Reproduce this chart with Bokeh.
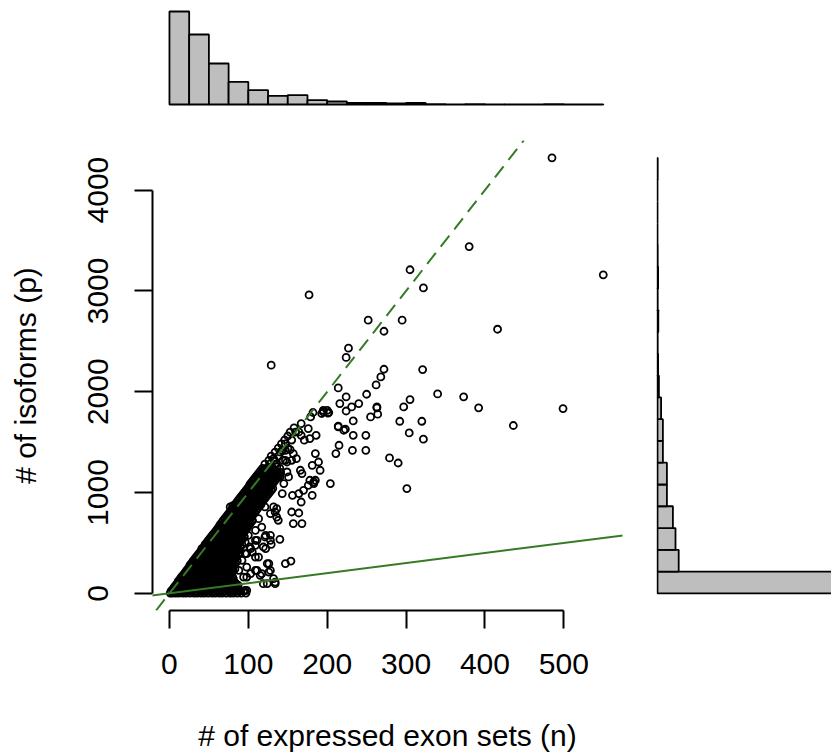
from bokeh.plotting import figure
from bokeh.models import Range1d, FixedTicker, Slope
from bokeh.layouts import column, row
from bokeh.embed import file_html
from bokeh.resources import INLINE

FONT = "Liberation Sans"
GREEN = "#357a24"
BAR_FILL = "#bebebe"

# ---------------- data ----------------
x_ticks = [0, 100, 200, 300, 400, 500]
y_ticks = [0, 1000, 2000, 3000, 4000]
x_title = "# of expressed exon sets (n)"
y_title = "# of isoforms (p)"

# marginal histogram of n (exon sets)
n_breaks = [0, 25, 50, 75, 100, 125, 150, 175, 200, 225, 250, 275, 300,
            325, 350, 375, 400, 425, 450, 475, 500, 525, 550]
n_counts = [465, 350, 205, 113, 72, 43, 47, 22, 15, 8, 8, 5, 8,
            2, 1, 2, 1, 1, 0, 2, 0, 1]

# marginal histogram of p (isoforms)
p_breaks = [0, 216, 432, 648, 864, 1080, 1296, 1512, 1728, 1944, 2160,
            2376, 2592, 2808, 3024, 3240, 3456, 3672, 3888, 4104, 4320]
p_counts = [911, 106, 90, 77, 47, 47, 27, 27, 18, 7, 3, 1, 4, 1, 3, 1, 0, 0, 0, 1]

# reference lines p = slope * n
upper_slope = 10
lower_slope = 1

# dense core of genes: rows of (isoforms, [exon sets ...])
core_rows = [
    (3,    [1, 4, 8, 12, 17, 21, 26, 31, 35, 40, 44, 49, 54, 58, 63, 67, 72, 77, 81, 86, 91, 97]),
    (22,   [2, 6, 10, 15, 19, 24, 28, 33, 38, 42, 47, 51, 56, 61, 65, 70, 75, 79, 84, 89, 94]),
    (40,   [4, 8, 13, 18, 22, 27, 32, 36, 41, 46, 50, 55, 60, 64, 69, 74, 78, 83, 88]),
    (61,   [6, 10, 15, 19, 24, 29, 33, 38, 43, 47, 52, 57, 61, 66, 71, 75, 80, 85]),
    (82,   [8, 12, 17, 21, 26, 31, 35, 40, 45, 49, 54, 59, 63, 68, 73, 77, 82, 87]),
    (100,  [10, 14, 19, 23, 28, 33, 37, 42, 47, 51, 56, 60, 65, 70, 74, 79, 84]),
    (118,  [11, 16, 20, 25, 30, 34, 39, 44, 48, 53, 58, 62, 67, 72, 76, 81]),
    (139,  [13, 18, 22, 27, 32, 36, 41, 46, 50, 55, 60, 64, 69, 73, 78]),
    (160,  [15, 20, 24, 29, 33, 38, 43, 47, 52, 57, 61, 66, 71, 75, 80]),
    (179,  [17, 22, 26, 31, 35, 40, 45, 49, 54, 59, 63, 68, 73, 77]),
    (198,  [19, 23, 28, 32, 37, 42, 46, 51, 56, 60, 65, 70, 74, 79]),
    (220,  [21, 25, 30, 35, 39, 44, 48, 53, 58, 62, 67, 72, 76, 81]),
    (241,  [23, 27, 32, 37, 41, 46, 50, 55, 60, 64, 69, 74, 78, 83]),
    (260,  [25, 29, 34, 39, 43, 48, 52, 57, 61, 66, 71, 75, 80]),
    (280,  [26, 31, 35, 40, 45, 49, 54, 58, 63, 68, 72, 77, 82]),
    (301,  [28, 33, 37, 42, 47, 51, 56, 60, 65, 70, 74, 79, 84]),
    (322,  [30, 35, 39, 44, 48, 53, 58, 62, 67, 71, 76, 81, 86]),
    (341,  [32, 37, 41, 46, 50, 55, 60, 64, 69, 73, 78, 83]),
    (361,  [34, 38, 43, 48, 52, 57, 61, 66, 71, 75, 80, 85]),
    (381,  [36, 40, 45, 50, 54, 59, 63, 68, 73, 77, 82, 87]),
    (402,  [38, 42, 47, 52, 56, 61, 65, 70, 75, 79, 84, 89]),
    (421,  [40, 44, 49, 54, 58, 63, 67, 72, 77, 81, 86]),
    (441,  [42, 46, 51, 55, 60, 65, 69, 74, 78, 83, 88]),
    (462,  [44, 48, 53, 57, 62, 67, 71, 76, 80, 85, 90]),
    (483,  [45, 50, 55, 59, 64, 68, 73, 78, 82, 87, 92]),
    (502,  [47, 52, 57, 61, 66, 70, 75, 80, 84, 89]),
    (522,  [49, 54, 58, 63, 68, 72, 77, 81, 86, 91]),
    (542,  [51, 56, 60, 65, 70, 74, 79, 83, 88, 93]),
    (563,  [53, 58, 62, 67, 71, 76, 81, 85, 90, 95]),
    (582,  [55, 60, 64, 69, 73, 78, 83, 87, 92]),
    (601,  [57, 61, 66, 71, 75, 80, 84, 89, 94]),
    (621,  [59, 63, 68, 73, 77, 82, 86, 91, 96]),
    (642,  [61, 65, 70, 75, 79, 84, 88, 93, 98]),
    (661,  [63, 67, 72, 76, 81, 86, 90, 95, 99]),
    (680,  [64, 69, 74, 78, 83, 87, 92, 97, 101]),
    (700,  [66, 71, 76, 80, 85, 89, 94, 98, 103]),
    (721,  [68, 73, 77, 82, 87, 91, 96, 100, 105]),
    (741,  [70, 75, 79, 84, 89, 93, 98, 102]),
    (762,  [72, 77, 81, 86, 90, 95, 100, 104]),
    (781,  [74, 79, 83, 88, 92, 97, 101, 106]),
    (800,  [76, 80, 85, 90, 94, 99, 103, 108]),
    (821,  [78, 82, 87, 92, 96, 101, 105, 110]),
    (843,  [80, 84, 89, 93, 98, 103, 107, 112]),
    (862,  [82, 86, 91, 95, 100, 104, 109, 114]),
    (881,  [83, 88, 93, 97, 102, 106, 111, 116]),
    (901,  [85, 90, 95, 99, 104, 108, 113, 117]),
    (922,  [87, 92, 96, 101, 106, 110, 115, 119]),
    (942,  [89, 94, 98, 103, 107, 112, 117, 121]),
    (963,  [91, 96, 100, 105, 109, 114, 119, 123]),
    (982,  [93, 98, 102, 107, 111, 116, 120, 125]),
    (1001, [95, 99, 104, 108, 113, 118, 122, 127]),
    (1021, [97, 101, 106, 110, 115, 120, 124, 129]),
    (1042, [99, 103, 108, 112, 117, 122, 126, 131]),
    (1061, [101, 105, 110, 114, 119, 123, 128]),
    (1080, [102, 107, 111, 116, 121, 125, 130]),
    (1100, [104, 109, 113, 118, 122, 127, 132]),
    (1121, [106, 111, 115, 120, 124, 129, 134]),
    (1140, [108, 113, 117, 122, 126, 131, 136]),
    (1160, [110, 114, 119, 124, 128, 133, 138]),
    (1180, [112, 116, 121, 126, 130, 135, 139]),
    (1201, [114, 118, 123, 127, 132, 137, 141]),
    (1220, [116, 120, 125, 134]),
    (1240, [118, 123, 131, 140]),
    (1282, [121, 127, 135]),
    (1320, [126, 133, 144]),
    (1362, [129, 138]),
    (1401, [134, 141]),
    (1440, [138, 150]),
    (1482, [142, 147]),
    (1521, [146, 155]),
    (1561, [150]),
    (1600, [153, 160]),
    (1642, [158]),
]

# scattered genes below the dense band
spread_n = [140, 147, 154, 128, 129, 119, 109, 105, 113, 122, 126, 128, 117, 109, 119,
            132, 134, 96, 81, 84, 96, 92, 98, 103, 88, 94, 134, 138, 128, 132, 113,
            117, 109, 122, 128, 100, 96, 103, 109, 155, 164, 157, 168, 102, 111, 121,
            109, 124, 111, 126, 115, 98, 98, 105, 136, 121, 136, 115, 143, 86, 98,
            124, 134, 77, 31, 41, 80]
spread_p = [536, 295, 320, 576, 486, 460, 476, 410, 360, 444, 295, 228, 196, 228, 96,
            146, 96, 30, 146, 96, 394, 328, 261, 196, 228, 162, 807, 725, 791, 857, 741,
            658, 625, 576, 526, 576, 509, 444, 526, 807, 797, 692, 692, 460, 526, 559,
            360, 295, 228, 211, 179, 162, 394, 725, 757, 857, 840, 1022, 990, 30, 30,
            96, 112, 857, 311, 444, 867]

# genes along the upper band (p roughly 900 - 2250)
band_n = [183, 176, 170, 181, 164, 156, 167, 140, 149, 147, 147,
          202, 193, 182, 179, 167, 164, 167, 171, 178, 186, 176, 214, 221, 143, 153,
          157, 161, 155, 149, 166, 168, 185, 189, 181, 191, 185, 204, 132, 136, 124,
          151, 145, 128, 119, 178, 183,
          224, 201, 195, 263, 264, 255, 233, 214, 223, 233, 249, 215, 211, 232, 249,
          279, 290, 301, 292, 320, 304, 322,
          272, 268, 262, 250, 240, 224, 214, 216, 305, 297, 263, 321, 231, 195, 200]
band_p = [1105, 1072, 1022, 972, 990, 972, 906, 1155, 1204, 1320, 1419,
          1794, 1784, 1794, 1750, 1684, 1601, 1568, 1519, 1535, 1568, 1635, 1651, 1618, 1419, 1426,
          1387, 1337, 1320, 1303, 1221, 1188, 1387, 1303, 1270, 1221, 1122, 1089, 1337, 1254, 1221,
          1155, 1089, 1089, 1089, 1122, 1089,
          1809, 1787, 1800, 1840, 1777, 1750, 1710, 1658, 1628, 1568, 1568, 1469, 1387, 1419, 1419,
          1343, 1293, 1039, 1707, 1707, 1591, 1529,
          2223, 2147, 2068, 1975, 1883, 1949, 2038, 1883, 1922, 1849, 1849, 2220, 1849, 1816, 1816]

# isolated genes
outlier_n = [340, 373, 392, 436, 499, 485, 550, 380, 305, 322, 177, 252, 295, 272, 416, 227, 224, 129]
outlier_p = [1978, 1949, 1840, 1665, 1833, 4320, 3160, 3440, 3210, 3030, 2960, 2710, 2710, 2600,
             2620, 2432, 2340, 2263]

# ---------------- assemble ----------------
n_all, p_all = [], []
for pv, ns in core_rows:
    for nv in ns:
        n_all.append(nv)
        p_all.append(pv)
n_all += spread_n + band_n + outlier_n
p_all += spread_p + band_p + outlier_p

xr = Range1d(-21.5, 574.4)
yr = Range1d(-170, 4492)

LB, RB, BB = 152, 34, 146
TOP_H = 140


def clean(fig):
    fig.xgrid.visible = False
    fig.ygrid.visible = False
    fig.outline_line_color = None
    fig.background_fill_color = "white"
    fig.border_fill_color = "white"


# scatter
sc = figure(width=LB + 470 + RB, height=470 + BB, x_range=xr, y_range=yr,
            output_backend="svg", toolbar_location=None,
            min_border_left=LB, min_border_right=RB, min_border_top=0, min_border_bottom=BB)
clean(sc)
sc.scatter(n_all, p_all, marker="circle", size=7, fill_color=None,
           line_color="black", line_width=1.8)
sc.add_layout(Slope(gradient=upper_slope, y_intercept=0, line_color=GREEN,
                    line_width=2, line_dash="14 8"))
sc.add_layout(Slope(gradient=lower_slope, y_intercept=0, line_color=GREEN, line_width=2))

for ax, ticks, bnd, title in ((sc.xaxis[0], x_ticks, (0, 500), x_title),
                              (sc.yaxis[0], y_ticks, (0, 4000), y_title)):
    ax.ticker = FixedTicker(ticks=ticks)
    ax.bounds = bnd
    ax.axis_label = title
    ax.axis_label_text_font = FONT
    ax.axis_label_text_font_size = "30px"
    ax.axis_label_text_font_style = "normal"
    ax.axis_label_text_color = "black"
    ax.major_label_text_font = FONT
    ax.major_label_text_font_size = "30px"
    ax.major_label_text_color = "black"
    ax.major_tick_out = 18
    ax.major_tick_in = 0
    ax.minor_tick_out = 0
    ax.minor_tick_in = 0
    ax.axis_line_width = 2
    ax.major_tick_line_width = 2
    ax.axis_line_color = "black"
    ax.major_tick_line_color = "black"

sc.xaxis[0].major_label_standoff = 25
sc.xaxis[0].axis_label_standoff = 42
sc.yaxis[0].major_label_orientation = "vertical"
sc.yaxis[0].major_label_standoff = 26
sc.yaxis[0].axis_label_standoff = 44

# top histogram
th = figure(width=LB + 470 + RB, height=TOP_H, x_range=xr, y_range=Range1d(-180, 520),
            output_backend="svg", toolbar_location=None,
            x_axis_location=None, y_axis_location=None,
            min_border_left=LB, min_border_right=RB, min_border_top=0, min_border_bottom=0)
clean(th)
th.quad(left=n_breaks[:-1], right=n_breaks[1:], bottom=0, top=n_counts,
        fill_color=BAR_FILL, line_color="black", line_width=1.8)

# right histogram
rh = figure(width=175, height=470 + BB, x_range=Range1d(-5, 870), y_range=yr,
            output_backend="svg", toolbar_location=None,
            x_axis_location=None, y_axis_location=None,
            min_border_left=0, min_border_right=0, min_border_top=0, min_border_bottom=BB)
clean(rh)
rh.quad(left=0, right=p_counts, bottom=p_breaks[:-1], top=p_breaks[1:],
        fill_color=BAR_FILL, line_color="black", line_width=1.8)

layout = column(th, row(sc, rh))
open("out.html", "w").write(file_html(layout, INLINE))
